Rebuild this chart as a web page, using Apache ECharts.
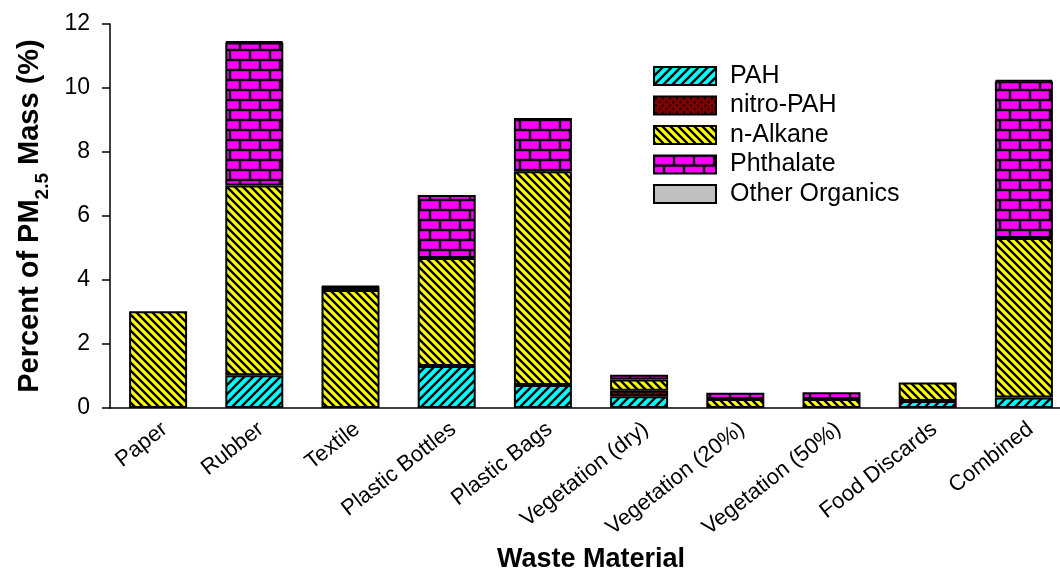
<!DOCTYPE html>
<html>
<head>
<meta charset="utf-8">
<script src="https://cdn.jsdelivr.net/npm/echarts@6/dist/echarts.min.js"></script>
<style>
  html, body { margin: 0; padding: 0; background: #ffffff; }
  #chart { width: 1060px; height: 571px; }
</style>
</head>
<body>
<div id="chart"></div>
<script>
// Waste materials burned
const categories = ['Paper', 'Rubber', 'Textile', 'Plastic Bottles', 'Plastic Bags',
  'Vegetation (dry)', 'Vegetation (20%)', 'Vegetation (50%)', 'Food Discards', 'Combined'];

// Organic species as percent of PM2.5 mass
const pah       = [0,    1.02, 0,    1.31, 0.72, 0.37, 0,    0,    0.22, 0.33];
const nitroPah  = [0,    0,    0,    0,    0,    0.17, 0,    0,    0,    0];
const nAlkane   = [3.02, 5.93, 3.69, 3.38, 6.68, 0.35, 0.28, 0.28, 0.58, 4.98];
const phthalate = [0,    4.47, 0.10, 1.97, 1.66, 0.15, 0.20, 0.21, 0,    4.90];
const other     = [0,    0.04, 0.02, 0,    0,    0,    0,    0,    0,    0.04];

const yTicks = { min: 0, max: 12, interval: 2 };

// ---- fill patterns ----
function tile(w, h, draw) {
  const c = document.createElement('canvas');
  c.width = w; c.height = h;
  const g = c.getContext('2d');
  draw(g, w, h);
  return { image: c, repeat: 'repeat' };
}

function hatch(bg, forward, s, lw) {
  return tile(s, s, (g, w, h) => {
    g.fillStyle = bg; g.fillRect(0, 0, w, h);
    g.strokeStyle = '#000'; g.lineWidth = lw; g.lineCap = 'square';
    g.beginPath();
    if (forward) {
      g.moveTo(0, h); g.lineTo(w, 0);
      g.moveTo(-w, h); g.lineTo(0, 0);
      g.moveTo(w, 2 * h); g.lineTo(2 * w, h);
      g.moveTo(0, 2 * h); g.lineTo(2 * w, 0);
      g.moveTo(-w, w); g.lineTo(w, -w);
    } else {
      g.moveTo(0, 0); g.lineTo(w, h);
      g.moveTo(-w, 0); g.lineTo(w, 2 * h);
      g.moveTo(0, -h); g.lineTo(2 * w, h);
    }
    g.stroke();
  });
}

function dots(bg, s, r) {
  return tile(s, s, (g, w, h) => {
    g.fillStyle = bg; g.fillRect(0, 0, w, h);
    g.fillStyle = '#000';
    g.fillRect(1, 1, r, r);
    g.fillRect(1 + w / 2, 1 + h / 2, r, r);
  });
}

function bricks(bg, bw, rh, lw) {
  return tile(bw, rh * 2, (g, w, h) => {
    g.fillStyle = '#000'; g.fillRect(0, 0, w, h);
    g.fillStyle = bg;
    // row 1
    g.fillRect(lw / 2, lw / 2, w - lw, rh - lw);
    // row 2 (offset by half a brick)
    g.fillRect(0, rh + lw / 2, w / 2 - lw / 2, rh - lw);
    g.fillRect(w / 2 + lw / 2, rh + lw / 2, w / 2 - lw / 2, rh - lw);
  });
}

const fills = {
  pah: hatch('#00ffff', true, 9, 2.4),
  nitro: dots('#800000', 7, 2),
  alkane: hatch('#ffff00', false, 8, 2.4),
  phthalate: bricks('#ff00ff', 20, 10, 2.4),
  other: '#c0c0c0'
};

const layers = [
  { name: 'PAH', values: pah, fill: fills.pah },
  { name: 'nitro-PAH', values: nitroPah, fill: fills.nitro },
  { name: 'n-Alkane', values: nAlkane, fill: fills.alkane },
  { name: 'Phthalate', values: phthalate, fill: fills.phthalate },
  { name: 'Other Organics', values: other, fill: fills.other }
];

const FONT = '"Liberation Sans", Arial, sans-serif';

const chart = echarts.init(document.getElementById('chart'), null, { renderer: 'canvas' });

chart.setOption({
  animation: false,
  backgroundColor: '#ffffff',
  textStyle: { fontFamily: FONT, color: '#000' },
  grid: { left: 110, top: 24, width: 962, height: 384, outerBoundsMode: 'none' },
  legend: {
    orient: 'vertical',
    left: 653,
    top: 63,
    padding: 0,
    icon: 'rect',
    itemWidth: 62,
    itemHeight: 18,
    itemGap: 3.5,
    textStyle: { fontFamily: FONT, fontSize: 25, lineHeight: 26, color: '#000', padding: [0, 0, 0, 9] },
    data: layers.map(l => l.name)
  },
  xAxis: {
    type: 'category',
    data: categories,
    name: 'Waste Material',
    nameLocation: 'middle',
    nameGap: 136,
    nameTextStyle: { fontFamily: FONT, fontSize: 27, fontWeight: 'bold', color: '#000' },
    axisLine: { lineStyle: { color: '#000', width: 1.5 } },
    axisTick: { alignWithLabel: true, length: 8, lineStyle: { color: '#000', width: 1.5 } },
    axisLabel: {
      rotate: 38, margin: 10, interval: 0,
      fontFamily: FONT, fontSize: 22, color: '#000',
      verticalAlign: 'top'
    },
    splitLine: { show: false }
  },
  yAxis: {
    type: 'value',
    min: yTicks.min, max: yTicks.max, interval: yTicks.interval,
    name: '{b|Percent of PM}{s|2.5}{b| Mass (%)}',
    nameLocation: 'middle',
    nameGap: 62,
    nameRotate: 90,
    nameTextStyle: {
      fontFamily: FONT, color: '#000',
      rich: {
        b: { fontFamily: FONT, fontSize: 29, fontWeight: 'bold', color: '#000', lineHeight: 36 },
        s: { fontFamily: FONT, fontSize: 19, fontWeight: 'bold', color: '#000', lineHeight: 36, verticalAlign: 'bottom', padding: [0, 0, -4, 0] }
      }
    },
    axisLine: { show: true, lineStyle: { color: '#000', width: 1.5 } },
    axisTick: { show: true, length: 8, lineStyle: { color: '#000', width: 1.5 } },
    axisLabel: { margin: 20, fontFamily: FONT, fontSize: 23, color: '#000' },
    splitLine: { show: false }
  },
  series: layers.map(l => ({
    name: l.name,
    type: 'bar',
    stack: 'total',
    barWidth: 58,
    data: l.values.map(v => (v === 0 ? null : v)),
    itemStyle: { color: l.fill, borderColor: '#000', borderWidth: 2 },
    emphasis: { disabled: true }
  }))
});
</script>
</body>
</html>
